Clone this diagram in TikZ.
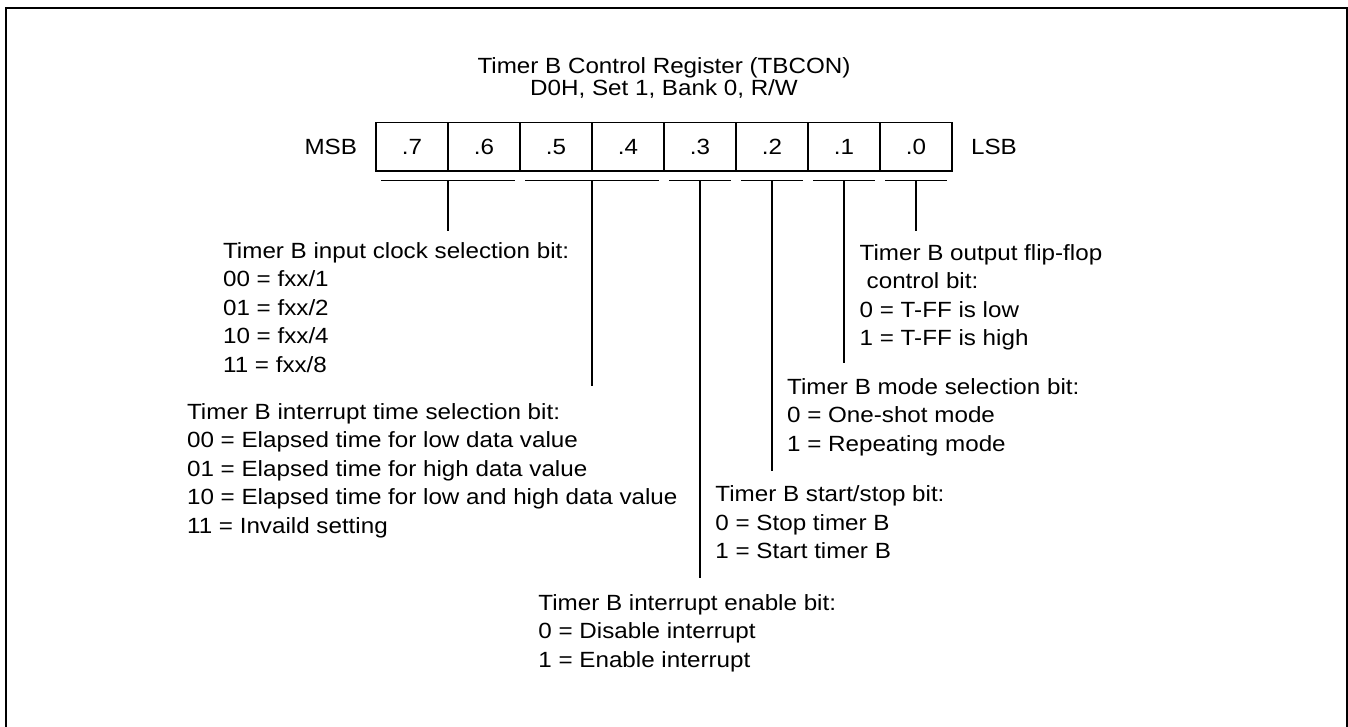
\documentclass[tikz,border=0pt]{standalone}
\usepackage{fontspec}
\setmainfont[FakeStretch=1.1]{Liberation Sans}
\usetikzlibrary{calc,positioning}
\tikzset{
  every picture/.style={draw=black, text=black},
  regcell/.style={draw, line width=0.65pt, minimum width=36pt,
    minimum height=24.2pt, inner sep=0pt},
  bitbar/.style={line width=0.65pt},
  bitlbl/.style={anchor=base west, align=left, inner sep=0pt},
}

\begin{document}
\begin{tikzpicture}[x=0.5pt, y=-0.5pt,
  every node/.style={font=\fontsize{11}{14.25}\selectfont}]
\useasboundingbox (0,0) rectangle (1348,727);

%% Outer frame
\draw[line width=1pt] (6,727) |- (1347,8) -- (1347,727);

%% Title (base = last line)
\node[anchor=base, align=center, inner sep=0pt,
  font=\fontsize{11}{11.35}\selectfont] (title) at (664,96)
  {Timer B Control Register (TBCON)\\D0H, Set 1, Bank 0, R/W};

%% Register cells
\foreach \b [count=\i from 0] in {7,6,...,0}
  \node[regcell] (c\b) at ({412+72*\i},146.85) {.\b};
\node[left=9pt of c7, inner sep=0pt] (msb) {MSB};
\node[right=9pt of c0, inner sep=0pt] (lsb) {LSB};

%% Bars under the bit fields
\foreach \l/\r/\n in {c7/c6/b76, c5/c4/b54, c3/c3/b3, c2/c2/b2, c1/c1/b1, c0/c0/b0}
  \draw[bitbar] ([xshift=3pt,yshift=-4.5pt]\l.south west)
    -- coordinate[midway] (\n) ([xshift=-3pt,yshift=-4.5pt]\r.south east);

%% Field descriptions (placed at the base of their last line)
\node[bitlbl] (clk) at (222.7,372.3)
  {Timer B input clock selection bit:\\00 = fxx/1\\01 = fxx/2\\10 = fxx/4\\11 = fxx/8};
\node[bitlbl] (itm) at (186.7,533.3)
  {Timer B interrupt time selection bit:\\00 = Elapsed time for low data value\\
   01 = Elapsed time for high data value\\10 = Elapsed time for low and high data value\\
   11 = Invaild setting};
\node[bitlbl] (ien) at (538,667)
  {Timer B interrupt enable bit:\\0 = Disable interrupt\\1 = Enable interrupt};
\node[bitlbl] (run) at (715,558.7)
  {Timer B start/stop bit:\\0 = Stop timer B\\1 = Start timer B};
\node[bitlbl] (mode) at (786.7,451)
  {Timer B mode selection bit:\\0 = One-shot mode\\1 = Repeating mode};
\node[bitlbl] (tff) at (859.3,345.5)
  {Timer B output flip-flop\\\hspace*{3.5pt}control bit:\\0 = T-FF is low\\1 = T-FF is high};

%% Leaders
\foreach \n/\t/\g in {b76/clk/11, b54/itm/17, b3/ien/16, b2/run/14, b1/mode/15, b0/tff/12.6}
  \draw[bitbar] (\n) -- ($(\n |- \t.north)+(0,-\g)$);

\end{tikzpicture}
\end{document}
